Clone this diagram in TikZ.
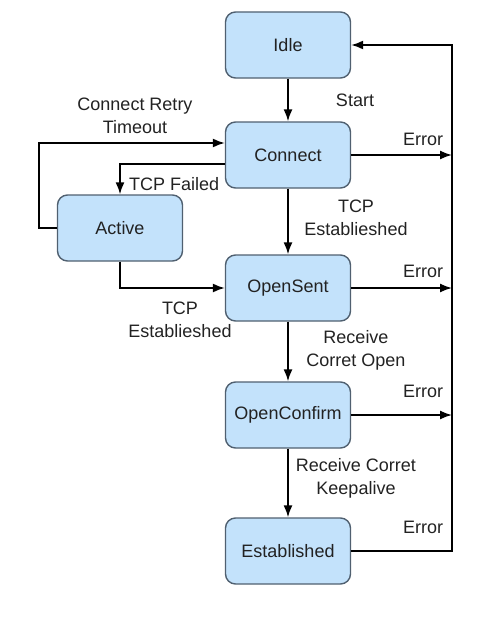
\documentclass[tikz,border=0pt]{standalone}
\usepackage{fontspec}
\setmainfont{Liberation Sans}
\usetikzlibrary{arrows.meta,calc}

\definecolor{statefill}{RGB}{195,226,251}
\definecolor{stateline}{RGB}{80,96,112}
\definecolor{textgray}{RGB}{34,34,34}

\tikzset{
  bgpstate/.style={draw=stateline, line width=1.4pt, fill=statefill, rounded corners=10pt,
    minimum width=125pt, minimum height=66pt, inner sep=0pt, text=textgray},
  lbl/.style={align=center, text=textgray, inner sep=0pt},
  trans/.style={line width=1.6pt, -{Latex[length=12pt,width=9pt]}}
}

\begin{document}
\begin{tikzpicture}[x=1pt,y=-1pt, font=\fontsize{18}{23}\selectfont]
\useasboundingbox (0,0) rectangle (477,618);

% states
\node[bgpstate] (idle) at (288,45) {Idle};
\node[bgpstate] (connect) at (288,155) {Connect};
\node[bgpstate] (active) at (120,228) {Active};
\node[bgpstate] (opensent) at (288,288) {OpenSent};
\node[bgpstate] (openconfirm) at (288,415) {OpenConfirm};
\node[bgpstate] (established) at (288,551) {Established};

\coordinate (bus) at (452,45);

% main path
\draw[trans] (idle) -- (connect);
\draw[trans] (connect) -- (opensent);
\draw[trans] (opensent) -- (openconfirm);
\draw[trans] (openconfirm) -- (established);

% active loop
\draw[trans] (active.west) -- ++(-18,0) |- ([yshift=12pt]connect.west);
\draw[trans] ([yshift=-9pt]connect.west) -| (active.north);
\draw[trans] (active.south) |- (opensent.west);

% errors back to idle
\draw[trans] (connect.east) -- (connect.east -| bus);
\draw[trans] (opensent.east) -- (opensent.east -| bus);
\draw[trans] (openconfirm.east) -- (openconfirm.east -| bus);
\draw[trans] (established.east) -| (bus) -- (idle.east);

% labels
\node[lbl] (lstart) at (355,100) {Start};
\node[lbl] (lretry) at (135,116) {Connect Retry\\Timeout};
\node[lbl, anchor=west] (lfailed) at (129,184) {TCP Failed};
\node[lbl] (lest1) at (356,218) {TCP\\Establieshed};
\node[lbl] (lest2) at (180,320) {TCP\\Establieshed};
\node[lbl] (lopen) at (356,350) {Receive\\Corret Open};
\node[lbl] (lkeep) at (356,478) {Receive Corret\\Keepalive};
\node[lbl] (lerr1) at (423,139) {Error};
\node[lbl] (lerr2) at (423,271) {Error};
\node[lbl] (lerr3) at (423,391) {Error};
\node[lbl] (lerr4) at (423,527) {Error};
\end{tikzpicture}
\end{document}
